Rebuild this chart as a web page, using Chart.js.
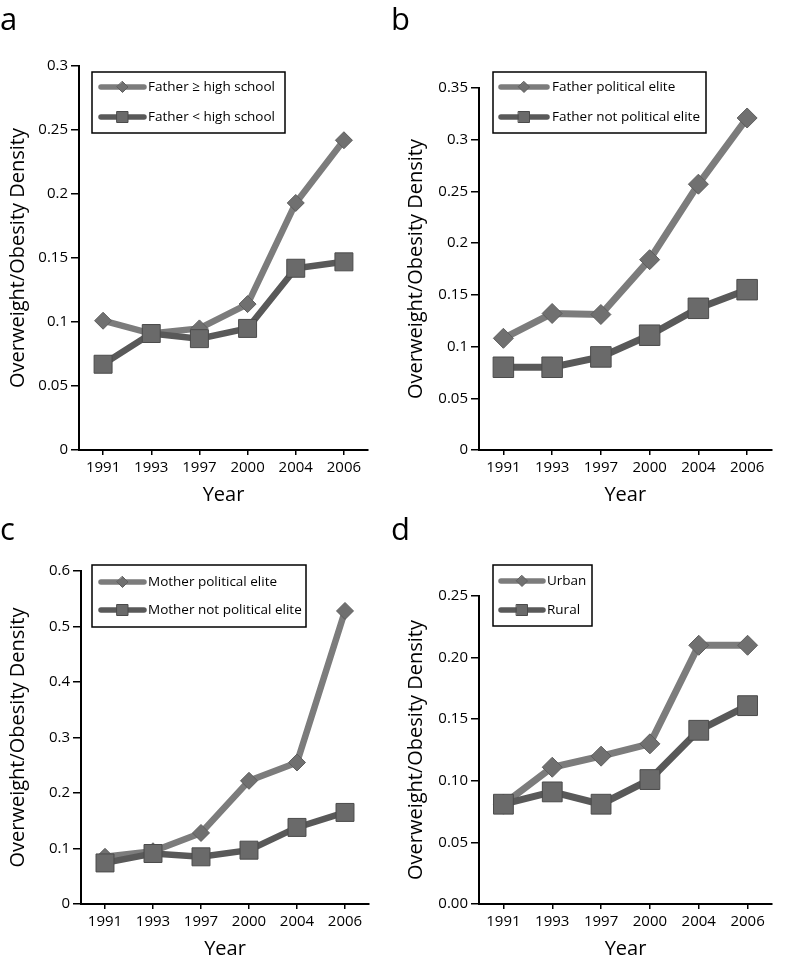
<!DOCTYPE html>
<html>
<head>
<meta charset="utf-8">
<script src="https://cdn.jsdelivr.net/npm/chart.js@4.4.0/dist/chart.umd.min.js"></script>
<style>
  html, body { margin: 0; padding: 0; background: #fff; }
  #wrap { position: relative; width: 787px; height: 964px; }
  #wrap canvas { position: absolute; left: 0; top: 0; }
</style>
</head>
<body>
<div id="wrap">
  <canvas id="panelA" width="787" height="964"></canvas>
  <canvas id="panelB" width="787" height="964"></canvas>
  <canvas id="panelC" width="787" height="964"></canvas>
  <canvas id="panelD" width="787" height="964"></canvas>
</div>
<script>
// data
const years = ['1991', '1993', '1997', '2000', '2004', '2006'];

const fatherHighSchool = [0.101, 0.091, 0.095, 0.114, 0.193, 0.242];
const fatherBelowHighSchool = [0.067, 0.091, 0.087, 0.095, 0.142, 0.147];

const fatherElite = [0.108, 0.132, 0.131, 0.184, 0.257, 0.321];
const fatherNotElite = [0.080, 0.080, 0.090, 0.111, 0.137, 0.155];

const motherElite = [0.085, 0.095, 0.128, 0.222, 0.255, 0.528];
const motherNotElite = [0.074, 0.091, 0.085, 0.097, 0.138, 0.165];

const urban = [0.081, 0.111, 0.120, 0.130, 0.210, 0.210];
const rural = [0.081, 0.091, 0.081, 0.101, 0.141, 0.161];

const ticksA = ['0', '0.05', '0.1', '0.15', '0.2', '0.25', '0.3'];
const ticksB = ['0', '0.05', '0.1', '0.15', '0.2', '0.25', '0.3', '0.35'];
const ticksC = ['0', '0.1', '0.2', '0.3', '0.4', '0.5', '0.6'];
const ticksD = ['0.00', '0.05', '0.10', '0.15', '0.20', '0.25'];

const yTitle = 'Overweight/Obesity Density';
const xTitle = 'Year';

Chart.defaults.font.family = "'Open Sans', sans-serif";
Chart.defaults.font.size = 15;
Chart.defaults.color = '#000';

const tickFont = { family: "'Open Sans', sans-serif", size: 15 };
const titleFont = { family: "'Open Sans', sans-serif", size: 20 };

// draws the panel letter and the boxed legend
const panelDecor = {
    id: 'panelDecor',
    afterDraw(chart, args, o) {
        const ctx = chart.ctx;
        ctx.save();
        ctx.fillStyle = '#000';
        ctx.font = "31px 'Open Sans'";
        ctx.textBaseline = 'alphabetic';
        ctx.textAlign = 'left';
        ctx.fillText(o.letter, o.letterX, o.letterY);

        const b = o.box;
        ctx.fillStyle = '#fff';
        ctx.fillRect(b.x, b.y, b.w, b.h);
        ctx.strokeStyle = '#000';
        ctx.lineWidth = 1.5;
        ctx.strokeRect(b.x, b.y, b.w, b.h);

        chart.data.datasets.forEach((ds, i) => {
            const y = o.rows[i];
            ctx.strokeStyle = ds.borderColor;
            ctx.lineWidth = 5.5;
            ctx.lineCap = 'round';
            ctx.beginPath();
            ctx.moveTo(o.sampleX, y);
            ctx.lineTo(o.sampleX + o.sampleW, y);
            ctx.stroke();

            const cx = o.sampleX + o.sampleW / 2;
            ctx.fillStyle = ds.pointBackgroundColor;
            ctx.strokeStyle = ds.pointBorderColor;
            ctx.lineWidth = 1;
            ctx.beginPath();
            if (ds.pointStyle === 'rectRot') {
                const r = 5.5;
                ctx.moveTo(cx, y - r);
                ctx.lineTo(cx + r, y);
                ctx.lineTo(cx, y + r);
                ctx.lineTo(cx - r, y);
                ctx.closePath();
            } else {
                const s = 5.5;
                ctx.rect(cx - s, y - s, 2 * s, 2 * s);
            }
            ctx.fill();
            ctx.stroke();

            ctx.fillStyle = '#000';
            ctx.font = "13.5px 'Open Sans'";
            ctx.textBaseline = 'middle';
            ctx.fillText(ds.label, o.textX, y + 0.5);
        });
        ctx.restore();
    }
};

function makePanel(id, p) {
    const datasets = [
        {
            label: p.labels[0],
            data: p.top,
            borderColor: '#7c7c7c',
            borderWidth: p.lw,
            pointStyle: 'rectRot',
            pointRadius: p.rDiamond,
            pointHoverRadius: p.rDiamond,
            pointBackgroundColor: '#707070',
            pointBorderColor: '#5e5e5e',
            pointBorderWidth: 1,
            tension: 0,
            fill: false,
            order: 1
        },
        {
            label: p.labels[1],
            data: p.bottom,
            borderColor: '#595959',
            borderWidth: p.lw,
            pointStyle: 'rect',
            pointRadius: p.rSquare,
            pointHoverRadius: p.rSquare,
            pointBackgroundColor: '#6a6a6a',
            pointBorderColor: '#4b4b4b',
            pointBorderWidth: 1,
            tension: 0,
            fill: false,
            order: 0
        }
    ];

    return new Chart(document.getElementById(id), {
        type: 'line',
        data: { labels: years, datasets: datasets },
        plugins: [panelDecor],
        options: {
            responsive: false,
            animation: false,
            devicePixelRatio: 1,
            layout: { padding: p.padding },
            plugins: {
                legend: { display: false },
                tooltip: { enabled: false },
                panelDecor: p.decor
            },
            scales: {
                x: {
                    offset: true,
                    ticks: { color: '#000', font: tickFont, padding: 4, maxRotation: 0, autoSkip: false },
                    grid: { drawOnChartArea: false, drawTicks: true, tickLength: 5, color: '#000', lineWidth: 1.5, offset: false },
                    border: { display: true, color: '#000', width: 2 },
                    title: { display: true, text: xTitle, color: '#000', font: titleFont, padding: 0 },
                    afterFit: s => { s.height = p.xHeight; }
                },
                y: {
                    min: 0,
                    max: p.yMax,
                    ticks: {
                        stepSize: p.step,
                        color: '#000',
                        font: tickFont,
                        padding: 3,
                        callback: (v, i) => p.tickLabels[i]
                    },
                    grid: { drawOnChartArea: false, drawTicks: true, tickLength: 8, color: '#000', lineWidth: 1.5 },
                    border: { display: true, color: '#000', width: 2 },
                    title: { display: true, text: yTitle, color: '#000', font: titleFont, padding: 0 },
                    afterFit: s => { s.width = p.yWidth; }
                }
            }
        }
    });
}

makePanel('panelA', {
    labels: ['Father \u2265 high school', 'Father < high school'],
    top: fatherHighSchool, bottom: fatherBelowHighSchool,
    yMax: 0.3, step: 0.05, tickLabels: ticksA,
    lw: 6.5, rDiamond: 8.5, rSquare: 12.7,
    padding: { left: 6, top: 66, right: 419, bottom: 457 },
    yWidth: 73, xHeight: 57,
    decor: {
        letter: 'a', letterX: 0, letterY: 30,
        box: { x: 92, y: 72, w: 193, h: 61 }, rows: [87, 117],
        sampleX: 101, sampleW: 43, textX: 148
    }
});

makePanel('panelB', {
    labels: ['Father political elite', 'Father not political elite'],
    top: fatherElite, bottom: fatherNotElite,
    yMax: 0.35, step: 0.05, tickLabels: ticksB,
    lw: 7, rDiamond: 10, rSquare: 14.5,
    padding: { left: 404, top: 88, right: 2, bottom: 457 },
    yWidth: 75, xHeight: 57,
    decor: {
        letter: 'b', letterX: 391, letterY: 30,
        box: { x: 493, y: 72, w: 213, h: 61 }, rows: [87, 117],
        sampleX: 501, sampleW: 46, textX: 552
    }
});

makePanel('panelC', {
    labels: ['Mother political elite', 'Mother not political elite'],
    top: motherElite, bottom: motherNotElite,
    yMax: 0.6, step: 0.1, tickLabels: ticksC,
    lw: 6.5, rDiamond: 8.5, rSquare: 12.7,
    padding: { left: 6, top: 571, right: 418, bottom: 3 },
    yWidth: 75, xHeight: 57,
    decor: {
        letter: 'c', letterX: 0, letterY: 540,
        box: { x: 92, y: 565, w: 214, h: 62 }, rows: [582, 610],
        sampleX: 101, sampleW: 43, textX: 148
    }
});

makePanel('panelD', {
    labels: ['Urban', 'Rural'],
    top: urban, bottom: rural,
    yMax: 0.25, step: 0.05, tickLabels: ticksD,
    lw: 7, rDiamond: 10, rSquare: 14,
    padding: { left: 404, top: 596, right: 2, bottom: 3 },
    yWidth: 75, xHeight: 57,
    decor: {
        letter: 'd', letterX: 391, letterY: 540,
        box: { x: 493, y: 565, w: 99, h: 61 }, rows: [581, 610],
        sampleX: 501, sampleW: 42, textX: 547
    }
});
</script>
</body>
</html>
